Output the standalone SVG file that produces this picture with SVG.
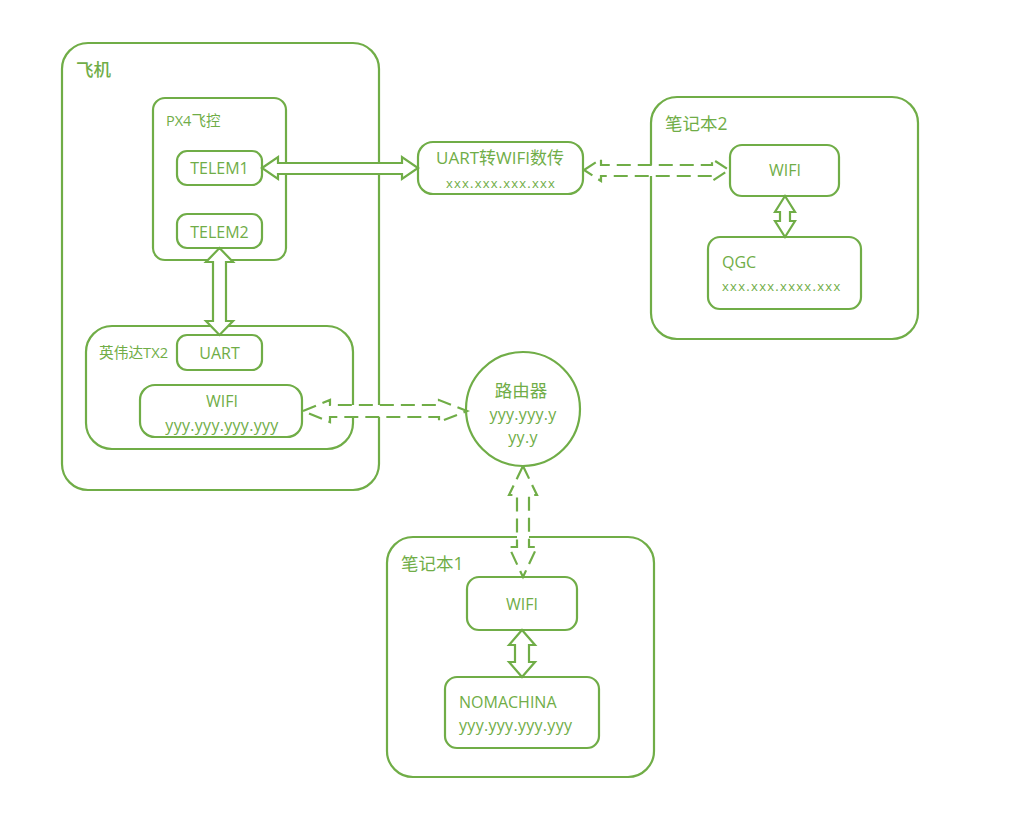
<svg xmlns="http://www.w3.org/2000/svg" width="1032" height="826" viewBox="0 0 1032 826">
<style>
.box{fill:none;stroke:#70AD47;stroke-width:2.2}
.arr{fill:#fff;stroke:#70AD47;stroke-width:2.2;stroke-linejoin:miter}
.dash{stroke-dasharray:14 7}
text{fill:#70AD47;font-family:"Open Sans","Noto Sans CJK SC",sans-serif;font-size:16px}
.c{text-anchor:middle}
.big{font-size:17.5px}
.x{font-size:13px;letter-spacing:1.2px}
.y{letter-spacing:0.3px}
</style>
<rect width="1032" height="826" fill="#fff"/>
<g id="plane">
<rect class="box" x="62" y="43" width="317" height="447" rx="26"/>
<text x="76" y="76" style="font-size:17.5px;font-weight:500">飞机</text>
</g>
<g id="px4">
<rect class="box" x="153" y="98" width="133" height="162" rx="12"/>
<text x="166" y="126" style="font-size:14.5px">PX4飞控</text>
</g>
<g id="telem1">
<rect class="box" x="177" y="151" width="85" height="34" rx="10"/>
<text x="219.5" y="174" class="c">TELEM1</text>
</g>
<g id="telem2">
<rect class="box" x="177" y="214" width="85" height="34" rx="10"/>
<text x="219.5" y="238" class="c">TELEM2</text>
</g>
<g id="tx2">
<rect class="box" x="86" y="326" width="267" height="123" rx="26"/>
<text x="99" y="358" style="font-size:14.7px">英伟达TX2</text>
</g>
<g id="uart">
<rect class="box" x="177" y="335" width="85" height="35" rx="10"/>
<text x="219.5" y="359" class="c">UART</text>
</g>
<g id="tx2wifi">
<rect class="box" x="140" y="385" width="162" height="52" rx="15"/>
<text x="222" y="407" class="c">WIFI</text>
<text x="222" y="431" class="c y">yyy.yyy.yyy.yyy</text>
</g>
<g id="uartwifi">
<rect class="box" x="418" y="142" width="165" height="52" rx="15"/>
<text x="500" y="164" class="c" style="font-size:17px">UART转WIFI数传</text>
<text x="501" y="188" class="c x">xxx.xxx.xxx.xxx</text>
</g>
<g id="laptop2">
<rect class="box" x="651" y="97" width="267" height="242" rx="26"/>
<text x="665" y="130" class="big">笔记本2</text>
</g>
<g id="l2wifi">
<rect class="box" x="730" y="145" width="109" height="51" rx="12"/>
<text x="785" y="176" class="c">WIFI</text>
</g>
<g id="qgc">
<rect class="box" x="708" y="237" width="153" height="72" rx="12"/>
<text x="722" y="268">QGC</text>
<text x="722" y="291" class="x" style="letter-spacing:1.3px">xxx.xxx.xxxx.xxx</text>
</g>
<g id="router">
<circle class="box" cx="523" cy="409" r="57"/>
<text x="521" y="397" class="c big">路由器</text>
<text x="523" y="420" class="c y">yyy.yyy.y</text>
<text x="523" y="443" class="c y">yy.y</text>
</g>
<g id="laptop1">
<rect class="box" x="387" y="537" width="267" height="240" rx="26"/>
<text x="401" y="570" class="big">笔记本1</text>
</g>
<g id="l1wifi">
<rect class="box" x="467" y="577" width="110" height="53" rx="12"/>
<text x="522" y="610" class="c">WIFI</text>
</g>
<g id="nomachina">
<rect class="box" x="445" y="677" width="154" height="71" rx="12"/>
<text x="459" y="708">NOMACHINA</text>
<text x="459" y="731" class="y">yyy.yyy.yyy.yyy</text>
</g>
<g id="connectors">
<path class="arr" d="M262,168 L278,157 L278,163 L402,163 L402,157 L418,168 L402,179 L402,174 L278,174 L278,179 Z"/>
<path class="arr" d="M219.5,248 L233,262 L226,262 L226,321 L233,321 L219.5,335 L206,321 L213,321 L213,262 L206,262 Z"/>
<path class="arr dash" d="M584,170 L601,159 L601,165 L712,165 L712,159 L729,170 L712,181 L712,176 L601,176 L601,181 Z"/>
<path class="arr" d="M785,196 L795,212 L790,212 L790,221 L795,221 L785,237 L775,221 L780,221 L780,212 L775,212 Z"/>
<path class="arr dash" d="M303,411 L330,400 L330,405 L439,405 L439,400 L467,411 L439,422 L439,417 L330,417 L330,422 Z"/>
<path class="arr dash" d="M523,466 L537,495 L529,495 L529,547 L537,547 L523,577 L509,547 L517,547 L517,495 L509,495 Z"/>
<path class="arr" d="M522,630 L535,645 L529,645 L529,662 L535,662 L522,677 L509,662 L515,662 L515,645 L509,645 Z"/>
</g>
</svg>
